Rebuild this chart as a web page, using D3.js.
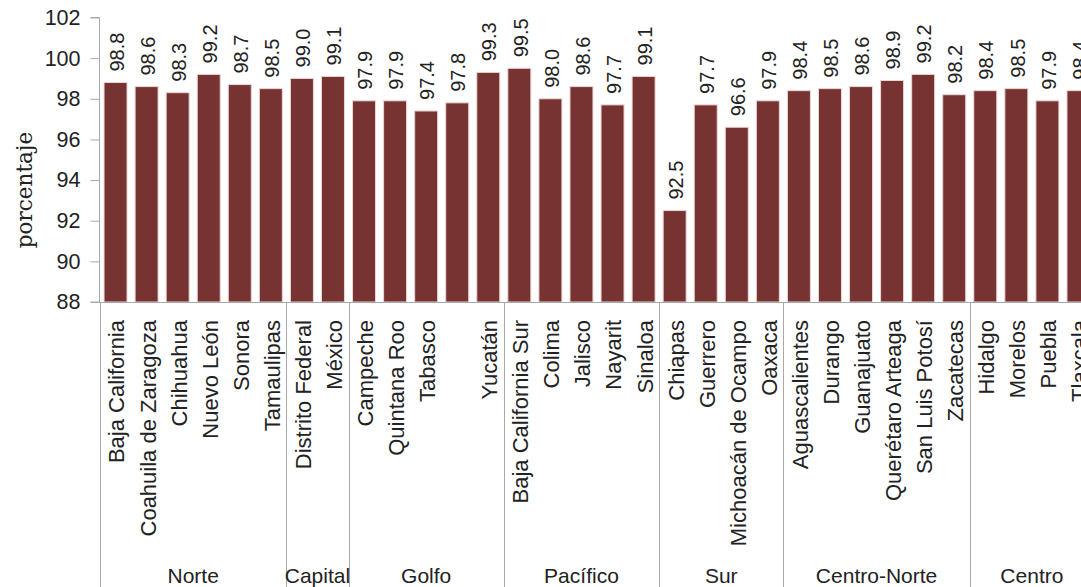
<!DOCTYPE html>
<html>
<head>
<meta charset="utf-8">
<script src="https://cdn.jsdelivr.net/npm/d3@7/dist/d3.min.js"></script>
<style>
  html, body { margin: 0; padding: 0; background: #fff; overflow: hidden; }
  svg { display: block; }
</style>
</head>
<body>
<svg id="chart" width="1081" height="587"></svg>
<script>
// Regions and the states belonging to each one, in drawing order
const regions = ["Norte", "Capital", "Golfo", "Pacífico", "Sur", "Centro-Norte", "Centro"];
const regionSizes = [6, 2, 5, 5, 4, 6, 4];

// State names; Veracruz's long name is left unlabeled on the axis
const states = [
  "Baja California", "Coahuila de Zaragoza", "Chihuahua", "Nuevo León", "Sonora", "Tamaulipas",
  "Distrito Federal", "México",
  "Campeche", "Quintana Roo", "Tabasco", "", "Yucatán",
  "Baja California Sur", "Colima", "Jalisco", "Nayarit", "Sinaloa",
  "Chiapas", "Guerrero", "Michoacán de Ocampo", "Oaxaca",
  "Aguascalientes", "Durango", "Guanajuato", "Querétaro Arteaga", "San Luis Potosí", "Zacatecas",
  "Hidalgo", "Morelos", "Puebla", "Tlaxcala"
];

// Percentage per state
const values = [
  98.8, 98.6, 98.3, 99.2, 98.7, 98.5,
  99.0, 99.1,
  97.9, 97.9, 97.4, 97.8, 99.3,
  99.5, 98.0, 98.6, 97.7, 99.1,
  92.5, 97.7, 96.6, 97.9,
  98.4, 98.5, 98.6, 98.9, 99.2, 98.2,
  98.4, 98.5, 97.9, 98.4
];

const yTicks = [88, 90, 92, 94, 96, 98, 100, 102];

const svg = d3.select("#chart");
const axisColor = "#a9a9a9";
const textColor = "#222";

const ids = states.map((d, i) => i);
const x = d3.scaleBand()
  .domain(ids)
  .range([100, 1094])
  .paddingInner(0.26)
  .paddingOuter(0.13);

const y = d3.scaleLinear().domain([88, 102]).range([302, 17.5]);

// Bars
svg.append("g")
  .selectAll("rect")
  .data(values)
  .join("rect")
  .attr("x", (d, i) => x(i))
  .attr("width", x.bandwidth())
  .attr("y", d => y(d))
  .attr("height", d => y(88) - y(d))
  .attr("fill", "#763331")
  .attr("stroke", "#ecd6d4")
  .attr("stroke-width", 1);

// Value labels, rotated above each bar
svg.append("g")
  .selectAll("text")
  .data(values)
  .join("text")
  .attr("transform", (d, i) => `translate(${x(i) + x.bandwidth() / 2 + 1},${y(d) - 11}) rotate(-90)`)
  .attr("dy", "0.36em")
  .attr("text-anchor", "start")
  .attr("font-family", "Liberation Sans, Arial, sans-serif")
  .attr("font-size", 20)
  .attr("fill", textColor)
  .text(d => d.toFixed(1));

// Y axis
const yAxis = svg.append("g")
  .attr("transform", "translate(99.5,0)")
  .call(d3.axisLeft(y).tickValues(yTicks).tickSize(9).tickPadding(10).tickFormat(d3.format("d")));
yAxis.select(".domain").attr("stroke", axisColor).attr("d", `M-9,${y(102)}H0V${y(88)}H-9`);
yAxis.selectAll(".tick line").attr("stroke", axisColor);
yAxis.selectAll(".tick text")
  .attr("font-family", "Liberation Sans, Arial, sans-serif")
  .attr("font-size", 21.5)
  .attr("fill", textColor);

// Y axis title
svg.append("text")
  .attr("transform", `translate(24,190) rotate(-90)`)
  .attr("dy", "0.35em")
  .attr("text-anchor", "middle")
  .attr("font-family", "DejaVu Serif, Liberation Serif, serif")
  .attr("font-size", 21.5)
  .attr("fill", textColor)
  .text("porcentaje");

// X axis baseline
svg.append("line")
  .attr("x1", 99).attr("x2", 1081)
  .attr("y1", 302.5).attr("y2", 302.5)
  .attr("stroke", axisColor);

// State names
svg.append("g")
  .selectAll("text")
  .data(states)
  .join("text")
  .attr("transform", (d, i) => `translate(${x(i) + x.bandwidth() / 2 + 1},320) rotate(-90)`)
  .attr("dy", "0.36em")
  .attr("text-anchor", "end")
  .attr("font-family", "Liberation Sans, Arial, sans-serif")
  .attr("font-size", 22)
  .attr("fill", textColor)
  .text(d => d);

// Region separators and region names
const starts = d3.cumsum([0, ...regionSizes.slice(0, -1)]);
const half = x.step() * x.paddingInner() / 2;
const bounds = regions.map((r, k) => {
  const a = starts[k], b = a + regionSizes[k] - 1;
  return { name: r, left: x(a) - half, right: x(b) + x.bandwidth() + half };
});

svg.append("g")
  .selectAll("line")
  .data(bounds)
  .join("line")
  .attr("x1", d => Math.round(d.left) + 0.5)
  .attr("x2", d => Math.round(d.left) + 0.5)
  .attr("y1", 302)
  .attr("y2", 600)
  .attr("stroke", axisColor);

svg.append("g")
  .selectAll("text")
  .data(bounds)
  .join("text")
  .attr("x", d => (d.left + d.right) / 2)
  .attr("y", 583)
  .attr("text-anchor", "middle")
  .attr("font-family", "Liberation Sans, Arial, sans-serif")
  .attr("font-size", 21)
  .attr("fill", textColor)
  .text(d => d.name);
</script>
</body>
</html>
